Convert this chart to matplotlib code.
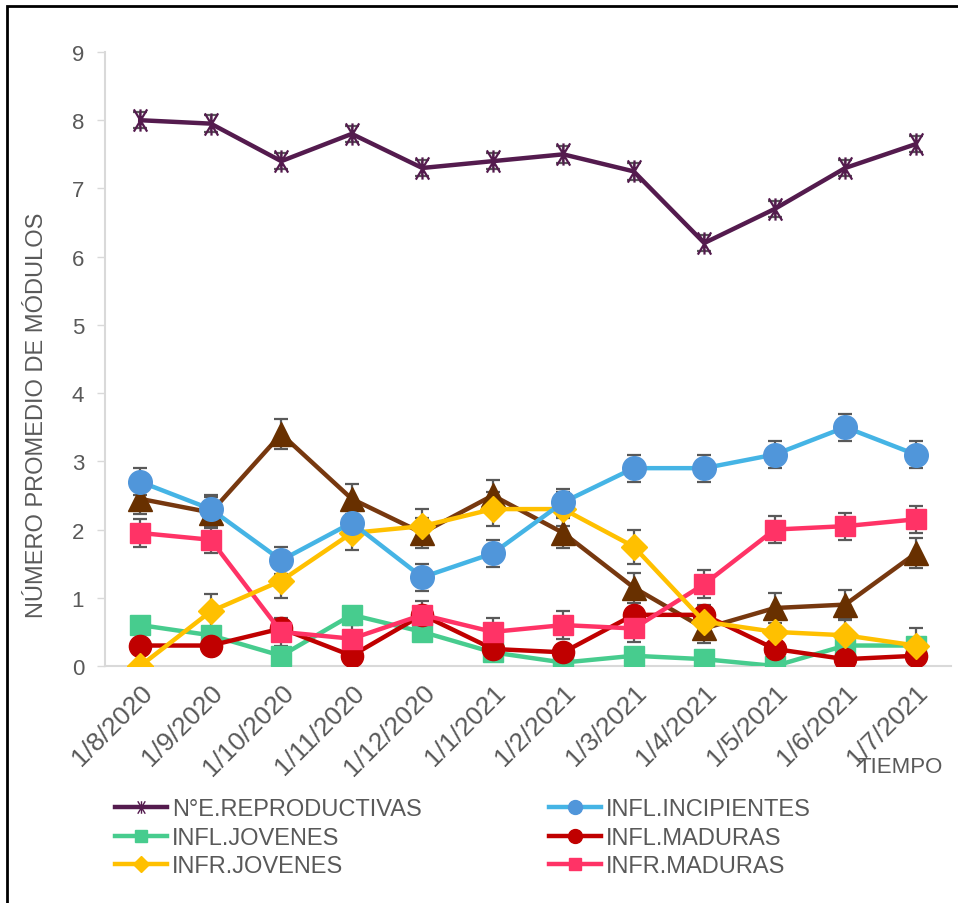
import numpy as np
import matplotlib.pyplot as plt
from matplotlib.path import Path
from matplotlib.patches import Rectangle

plt.rcParams['font.family'] = ['Liberation Sans', 'DejaVu Sans']

fechas = ["1/8/2020", "1/9/2020", "1/10/2020", "1/11/2020", "1/12/2020", "1/1/2021",
          "1/2/2021", "1/3/2021", "1/4/2021", "1/5/2021", "1/6/2021", "1/7/2021"]

reproductivas = [8.0, 7.95, 7.4, 7.8, 7.3, 7.4, 7.5, 7.25, 6.2, 6.7, 7.3, 7.65]
reproductivas_err = [0.12] * 12
incipientes = [2.7, 2.3, 1.55, 2.1, 1.3, 1.65, 2.4, 2.9, 2.9, 3.1, 3.5, 3.1]
incipientes_err = [0.2] * 12
infl_jovenes = [0.6, 0.45, 0.15, 0.75, 0.5, 0.2, 0.05, 0.15, 0.1, 0.0, 0.3, 0.3]
infl_maduras = [0.3, 0.3, 0.55, 0.15, 0.75, 0.25, 0.2, 0.75, 0.75, 0.25, 0.1, 0.15]
infr_jovenes = [0.0, 0.8, 1.25, 1.95, 2.05, 2.3, 2.3, 1.75, 0.65, 0.5, 0.45, 0.3]
infr_jovenes_err = [0.25] * 12
infr_maduras = [1.95, 1.85, 0.5, 0.4, 0.75, 0.5, 0.6, 0.55, 1.2, 2.0, 2.05, 2.15]
infr_maduras_err = [0.2] * 12
# serie sin entrada en la leyenda (triangulos marrones)
otra = [2.45, 2.25, 3.4, 2.45, 1.95, 2.5, 1.95, 1.15, 0.55, 0.85, 0.9, 1.65]
otra_err = [0.22] * 12

x = np.arange(len(fechas))

fig = plt.figure(figsize=(9.58, 9.04), dpi=100)
ax = fig.add_axes([105 / 958, 1 - 667 / 904, 846 / 958, 614 / 904])

gris = '#595959'
star = Path([(0, -1), (0, 1), (-0.6, -1), (0.6, 1), (-0.6, 1), (0.6, -1)],
            [Path.MOVETO, Path.LINETO, Path.MOVETO, Path.LINETO, Path.MOVETO, Path.LINETO])

eb = dict(ecolor=gris, elinewidth=1.6, capsize=5, capthick=1.6)

ax.errorbar(x, otra, yerr=otra_err, color='#77380F', lw=3.2, marker='^', ms=17,
            mfc='#683000', mec='#683000', zorder=3, **eb)
ax.errorbar(x, infl_jovenes, color='#47CC8E', lw=3.2, marker='s', ms=14,
            mfc='#47CC8E', mec='#47CC8E', zorder=3)
ax.errorbar(x, infl_maduras, color='#C00000', lw=3.2, marker='o', ms=16,
            mfc='#C00000', mec='#C00000', zorder=3)
ax.errorbar(x, infr_maduras, yerr=infr_maduras_err, color='#FF3366', lw=3.2, marker='s', ms=15,
            mfc='#FF3366', mec='#FF3366', zorder=3, **eb)
ax.errorbar(x, infr_jovenes, yerr=infr_jovenes_err, color='#FFC000', lw=3.2, marker='D', ms=13,
            mfc='#FFC000', mec='#FFC000', zorder=3, **eb)
ax.errorbar(x, incipientes, yerr=incipientes_err, color='#45B4E5', lw=3.2, marker='o', ms=17,
            mfc='#5096DA', mec='#5096DA', zorder=3, **eb)
ax.errorbar(x, reproductivas, yerr=reproductivas_err, color='#541B4E', lw=3.2, marker=star,
            ms=16, mew=1.6, mec='#541B4E', zorder=3, **eb)

ax.set_xlim(-0.5, len(fechas) - 0.5)
ax.set_ylim(0, 9)
ax.set_yticks(range(10))
ax.set_xticks(x)
ax.set_xticklabels(fechas, rotation=45, ha='right', va='top', rotation_mode='anchor')
ax.tick_params(axis='x', length=0, pad=10, labelsize=19, labelcolor=gris)
ax.tick_params(axis='y', length=6, width=1, color='#D9D9D9', pad=9, labelsize=16, labelcolor=gris)
for s in ['top', 'right']:
    ax.spines[s].set_visible(False)
for s in ['left', 'bottom']:
    ax.spines[s].set_color('#D9D9D9')
    ax.spines[s].set_linewidth(1.5)

ax.set_ylabel('NÚMERO PROMEDIO DE MÓDULOS', fontsize=17, color=gris)
ax.yaxis.set_label_coords(-0.067, 0.41)
fig.text(858 / 958, 1 - 768 / 904, 'TIEMPO', fontsize=16, color=gris, ha='left', va='center')

# leyenda (6 entradas, sin la serie marron)
def h(color, mfc, marker, ms):
    return plt.Line2D([], [], color=color, lw=3.2, marker=marker, ms=ms, mfc=mfc, mec=mfc)

handles = [h('#541B4E', '#541B4E', star, 9), h('#47CC8E', '#47CC8E', 's', 9),
           h('#FFC000', '#FFC000', 'D', 8), h('#45B4E5', '#5096DA', 'o', 10),
           h('#C00000', '#C00000', 'o', 10), h('#FF3366', '#FF3366', 's', 9)]
labels = ['N°E.REPRODUCTIVAS', 'INFL.JOVENES', 'INFR.JOVENES',
          'INFL.INCIPIENTES', 'INFL.MADURAS', 'INFR.MADURAS']
leg = fig.legend(handles, labels, ncol=2, loc='upper left',
                 bbox_to_anchor=(94 / 958, 1 - 778 / 904), frameon=False,
                 fontsize=17, handlelength=2.2, handletextpad=0.2,
                 columnspacing=5.4, labelspacing=0.28)
for t in leg.get_texts():
    t.set_color(gris)

fig.add_artist(Rectangle((7 / 958, -0.1), 1.2, 1.1 - 7 / 904, transform=fig.transFigure,
                         fill=False, ec='black', lw=2, clip_on=False))

fig.savefig('out.png', dpi=100)
